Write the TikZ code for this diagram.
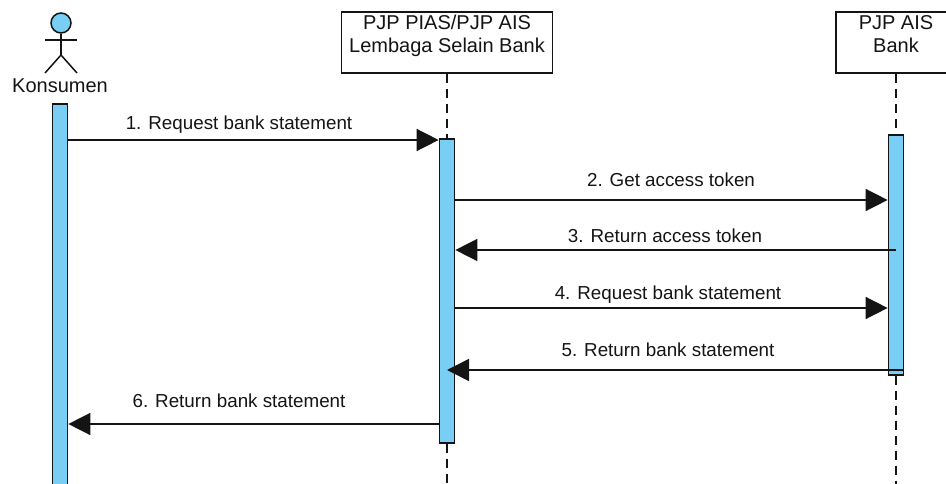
\documentclass[tikz,border=0pt]{standalone}
\usepackage{fontspec}
\setmainfont{Liberation Sans}
\usetikzlibrary{arrows.meta,positioning,shapes}
\definecolor{barblue}{RGB}{120,206,245}
\definecolor{ink}{RGB}{20,20,20}

\begin{document}
\begin{tikzpicture}[x = 1pt, y = -1pt, draw = ink, text = ink,
  box/.style = {draw, line width = 1.8pt, minimum height = 61pt, inner sep = 0pt},
  boxtext/.style = {anchor = north, align = center, inner sep = 0pt, font = \fontsize{20}{23}\selectfont},
  bar/.style = {draw, fill = barblue, line width = 1.7pt, minimum width = 15pt, inner sep = 0pt, anchor = north},
  life/.style = {line width = 1.8pt, dash pattern = on 9pt off 6pt},
  msg/.style = {-{Triangle[length = 22pt, width = 22pt]}, line width = 1.5pt},
  lbl/.style = {anchor = base, inner sep = 0pt, font = \fontsize{18.8}{22}\selectfont}]
\useasboundingbox (0,0) rectangle (946,484);
\clip (0,0) rectangle (946,484);

% actor
\node[draw, circle, fill = barblue, line width = 1.5pt, minimum size = 20pt, inner sep = 0pt] (head) at (61,23) {};
\coordinate (hip) at (61,55);
\draw[line width = 1.5pt] (head.south) -- (hip);
\draw[line width = 1.5pt] (45,40) -- (77,40);
\draw[line width = 1.5pt] (45,73) -- (hip) -- (77,73);
\node[inner sep = 0pt, font = \fontsize{20}{23}\selectfont] (konsumen) at (60,86) {Konsumen};

% participants
\node[box, minimum width = 211pt] (pias) at (447,42.5) {};
\node[boxtext] (piastext) at (447,15) {PJP PIAS/PJP AIS\\Lembaga Selain Bank};
\node[box, minimum width = 120pt] (ais) at (896,42.5) {};
\node[boxtext] (aistext) at (896,15) {PJP AIS\\Bank};

% activations and lifelines
\node[bar, minimum height = 400pt] (barK) at (60,103) {};
\node[bar, minimum height = 304pt] (barM) at (447,138) {};
\node[bar, minimum height = 240pt] (barB) at (896,134) {};
\coordinate (endM) at (447,490);
\coordinate (endB) at (896,490);
\draw[life] (pias.south) -- (barM.north);
\draw[life] (barM.south) -- (endM);
\draw[life] (ais.south) -- (barB.north);
\draw[life] (barB.south) -- (endB);

% messages
\draw[msg] (barK.east |- 0,140) -- (barM.west |- 0,140);
\node[lbl] (m1) at (239,130) {1. Request bank statement};
\draw[msg] (barM.east |- 0,200) -- (barB.west |- 0,200);
\node[lbl] (m2) at (671,186) {2. Get access token};
\draw[msg] (barB.center |- 0,250) -- (barM.east |- 0,250);
\node[lbl] (m3) at (665,243) {3. Return access token};
\draw[msg] (barM.east |- 0,308) -- (barB.west |- 0,308);
\node[lbl] (m4) at (668,299) {4. Request bank statement};
\draw[msg] (barB.east |- 0,370) -- (barM.center |- 0,370);
\node[lbl] (m5) at (668,356) {5. Return bank statement};
\draw[msg] (barM.west |- 0,424) -- (barK.east |- 0,424);
\node[lbl] (m6) at (239,407) {6. Return bank statement};
\end{tikzpicture}
\end{document}
